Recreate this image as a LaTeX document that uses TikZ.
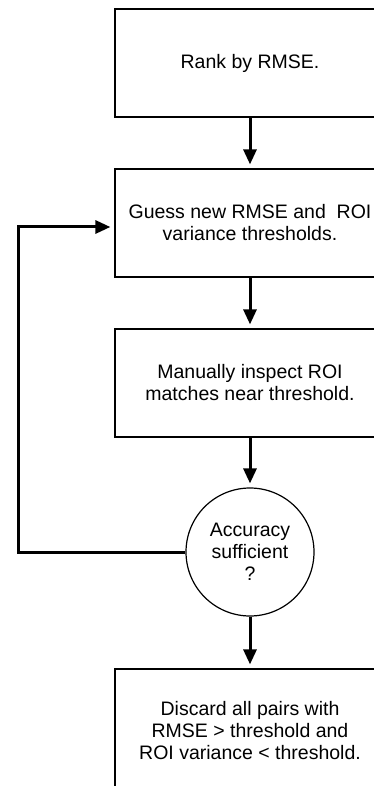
\documentclass[tikz,border=0pt]{standalone}
\usepackage{fontspec}
\setmainfont{Liberation Sans}
\usetikzlibrary{arrows.meta}

\begin{document}
\begin{tikzpicture}[x=1pt,y=-1pt,
  box/.style={draw,line width=1.2pt,minimum width=270pt,minimum height=108pt,
    align=center,font=\fontsize{19.5}{22}\selectfont},
  decision/.style={draw,circle,line width=1.2pt,minimum size=128pt,
    align=center,font=\fontsize{19.5}{22}\selectfont},
  flow/.style={-{Triangle[length=15pt,width=13pt]},line width=3pt,shorten >=4pt}]
\path[use as bounding box,clip] (0,0) rectangle (374,786);
\node[box] (rank) at (250,63) {Rank by RMSE.};
\node[box] (guess) at (250,223) {Guess new RMSE and\ \ ROI\\variance thresholds.};
\node[box] (inspect) at (250,383) {Manually inspect ROI\\matches near threshold.};
\node[decision] (acc) at (250,552) {Accuracy\\sufficient\\?};
\node[box,minimum height=124pt] (discard) at (250,731) {Discard all pairs with\\RMSE > threshold and\\ROI variance < threshold.};
\coordinate (loop) at (18,552);
\draw[flow] (rank.south) -- (guess.north);
\draw[flow] (guess.south) -- (inspect.north);
\draw[flow] (inspect.south) -- (acc.north);
\draw[flow] (acc.south) -- (discard.north);
\draw[flow] (acc.west) -- (loop) |- ([yshift=-4pt]guess.west);
\end{tikzpicture}
\end{document}
